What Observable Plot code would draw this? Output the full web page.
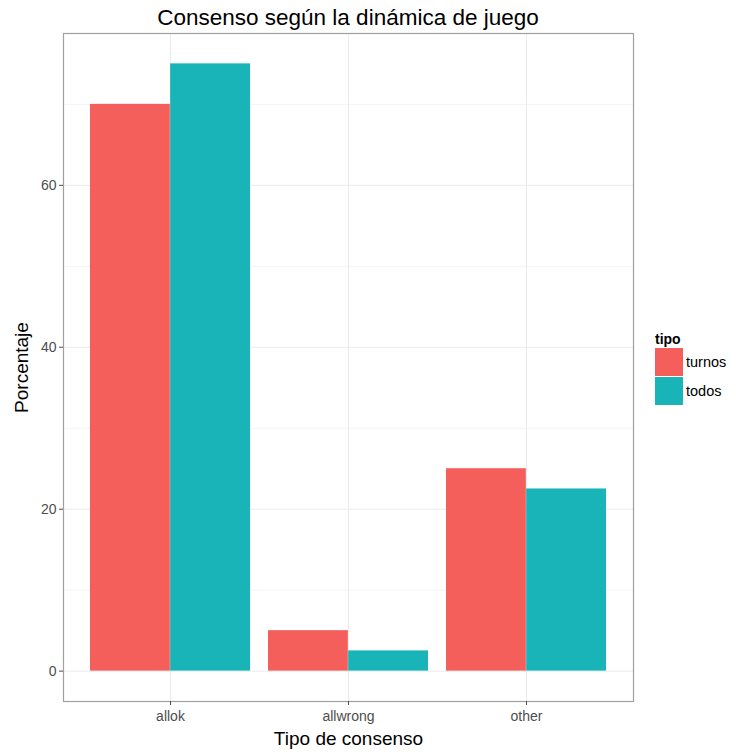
<!DOCTYPE html>
<html>
<head>
<meta charset="utf-8">
<script src="https://cdn.jsdelivr.net/npm/d3@7"></script>
<script src="https://cdn.jsdelivr.net/npm/@observablehq/plot@0.6"></script>
<style>
  html, body { margin: 0; padding: 0; background: #fff; }
  body { font-family: "Liberation Sans", Arial, Helvetica, sans-serif; }
  #wrap { position: relative; width: 736px; height: 756px; }
  #title { position: absolute; top: 5px; left: 63px; width: 570px; text-align: center; font-size: 22.5px; color: #000; }
  #legend { position: absolute; left: 655px; top: 331px; font-size: 14.5px; color: #000; }
  #legend .lt { font-weight: bold; margin-bottom: 0px; font-size: 14px; }
  #legend .row { display: flex; align-items: center; height: 29px; }
  #legend .sw { width: 28px; height: 28px; margin-right: 3px; }
</style>
</head>
<body>
<div id="wrap">
  <div id="chart"></div>
  <div id="title">Consenso según la dinámica de juego</div>
  <div id="legend"></div>
</div>
<script>
const categories = ["allok", "allwrong", "other"];
const tipos = ["turnos", "todos"];
const turnosValues = [70, 5, 25];
const todosValues = [75, 2.5, 22.5];
const yTicks = [0, 20, 40, 60];
const yMinorTicks = [10, 30, 50, 70];
const colors = ["#F45F5B", "#19B4B8"];
const xTitle = "Tipo de consenso";
const yTitle = "Porcentaje";
const legendTitle = "tipo";

const rows = [];
categories.forEach((c, i) => {
  rows.push({categoria: c, tipo: "turnos", valor: turnosValues[i]});
  rows.push({categoria: c, tipo: "todos", valor: todosValues[i]});
});

const W = 736, H = 756, ML = 63, MR = 103, MT = 33, MB = 55;
const step = (W - ML - MR) / 3.2;
const bw = step * 0.9;

const plot = Plot.plot({
  width: W, height: H,
  marginLeft: ML, marginRight: MR, marginTop: MT, marginBottom: MB,
  style: {fontFamily: "'Liberation Sans', Arial, Helvetica, sans-serif", background: "#fff"},
  x: {type: "band", domain: categories, paddingInner: 0.1, paddingOuter: 0.15},
  y: {domain: [-3.75, 78.75]},
  color: {domain: tipos, range: colors},
  marks: [
    Plot.gridY(yMinorTicks, {stroke: "#f4f4f4", strokeOpacity: 1}),
    Plot.gridY(yTicks, {stroke: "#ebebeb", strokeOpacity: 1}),
    Plot.gridX(categories, {stroke: "#ebebeb", strokeOpacity: 1}),
    Plot.barY(rows.filter(d => d.tipo === "turnos"), {x: "categoria", y: "valor", fill: "tipo", insetRight: bw / 2}),
    Plot.barY(rows.filter(d => d.tipo === "todos"), {x: "categoria", y: "valor", fill: "tipo", insetLeft: bw / 2}),
    Plot.frame({stroke: "#a0a0a0", strokeWidth: 1.2}),
    Plot.axisX({tickSize: 4, tickPadding: 6, fontSize: 14, color: "#4d4d4d", stroke: "#4d4d4d", label: null}),
    Plot.axisY(yTicks, {tickSize: 4, tickPadding: 3, fontSize: 14, color: "#4d4d4d", stroke: "#4d4d4d", label: null}),
    Plot.text([xTitle], {frameAnchor: "bottom", text: d => d, dy: 43, fontSize: 19, fill: "#000"}),
    Plot.text([yTitle], {frameAnchor: "left", textAnchor: "middle", text: d => d, dx: -42, rotate: -90, fontSize: 19, fill: "#000"})
  ]
});
document.getElementById("chart").appendChild(plot);

const cs = plot.scale("color");
const leg = document.getElementById("legend");
const t = document.createElement("div");
t.className = "lt"; t.textContent = legendTitle; leg.appendChild(t);
tipos.forEach(tp => {
  const r = document.createElement("div"); r.className = "row";
  const s = document.createElement("div"); s.className = "sw"; s.style.background = cs.apply(tp);
  const l = document.createElement("span"); l.textContent = tp;
  r.appendChild(s); r.appendChild(l); leg.appendChild(r);
});
</script>
</body>
</html>
